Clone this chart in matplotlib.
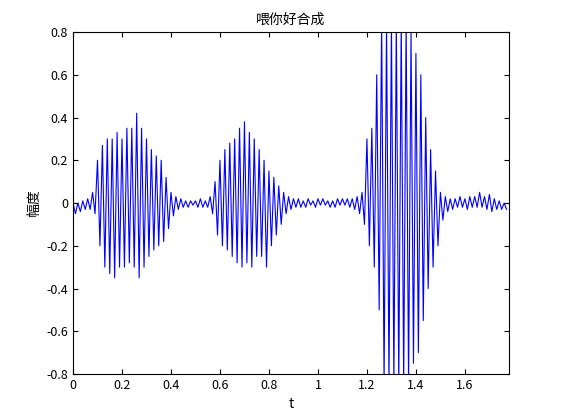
import numpy as np
import matplotlib
matplotlib.use("Agg")
import matplotlib.pyplot as plt

plt.rcParams['font.family'] = ['Noto Sans CJK SC', 'DejaVu Sans']

# envelope, every 0.02 s
t_env = [0.00, 0.02, 0.04, 0.06, 0.08, 0.10, 0.12, 0.14, 0.16, 0.18,
         0.20, 0.22, 0.24, 0.26, 0.28, 0.30, 0.32, 0.34, 0.36, 0.38,
         0.40, 0.42, 0.44, 0.46, 0.48, 0.50, 0.52, 0.54, 0.56, 0.58,
         0.60, 0.62, 0.64, 0.66, 0.68, 0.70, 0.72, 0.74, 0.76, 0.78,
         0.80, 0.82, 0.84, 0.86, 0.88, 0.90, 0.92, 0.94, 0.96, 0.98,
         1.00, 1.02, 1.04, 1.06, 1.08, 1.10, 1.12, 1.14, 1.16, 1.18,
         1.20, 1.22, 1.24, 1.26, 1.28, 1.30, 1.32, 1.34, 1.36, 1.38,
         1.40, 1.42, 1.44, 1.46, 1.48, 1.50, 1.52, 1.54, 1.56, 1.58,
         1.60, 1.62, 1.64, 1.66, 1.68, 1.70, 1.72, 1.74, 1.76]
upper = [0.00, 0.00, 0.01, 0.02, 0.05, 0.20, 0.27, 0.30, 0.30, 0.33,
         0.30, 0.35, 0.35, 0.42, 0.35, 0.30, 0.25, 0.22, 0.20, 0.12,
         0.05, 0.03, 0.02, 0.01, 0.01, 0.01, 0.02, 0.01, 0.03, 0.10,
         0.20, 0.25, 0.28, 0.30, 0.35, 0.38, 0.33, 0.30, 0.25, 0.20,
         0.15, 0.12, 0.08, 0.05, 0.03, 0.02, 0.02, 0.01, 0.02, 0.01,
         0.02, 0.02, 0.01, 0.01, 0.02, 0.02, 0.02, 0.02, 0.03, 0.05,
         0.30, 0.35, 0.60, 0.85, 0.85, 0.85, 0.85, 0.85, 0.85, 0.80,
         0.70, 0.60, 0.40, 0.25, 0.15, 0.05, 0.03, 0.02, 0.02, 0.03,
         0.02, 0.03, 0.03, 0.05, 0.03, 0.04, 0.02, 0.01, 0.00]
lower = [-0.05, -0.04, -0.03, -0.03, -0.05, -0.20, -0.30, -0.33, -0.35, -0.30,
         -0.30, -0.28, -0.30, -0.35, -0.30, -0.25, -0.22, -0.20, -0.18, -0.12,
         -0.06, -0.03, -0.02, -0.02, -0.01, -0.02, -0.02, -0.02, -0.05, -0.15,
         -0.20, -0.22, -0.25, -0.28, -0.30, -0.28, -0.30, -0.25, -0.25, -0.30,
         -0.20, -0.15, -0.10, -0.05, -0.03, -0.02, -0.02, -0.02, -0.01, -0.02,
         -0.01, -0.01, -0.02, -0.02, -0.01, -0.01, -0.02, -0.03, -0.05, -0.10,
         -0.20, -0.30, -0.50, -0.85, -0.85, -0.85, -0.85, -0.85, -0.85, -0.75,
         -0.70, -0.55, -0.40, -0.30, -0.20, -0.08, -0.04, -0.03, -0.02, -0.02,
         -0.03, -0.02, -0.02, -0.02, -0.03, -0.04, -0.03, -0.03, -0.03]

# zigzag between the two envelopes
t = []
y = []
for i in range(len(t_env)):
	t += [t_env[i], t_env[i] + 0.01]
	y += [upper[i], lower[i]]

fig = plt.figure(figsize=(5.61, 4.2), dpi=100)
ax = fig.add_axes([73/561, 1 - 374/420, 436/561, 342/420])
ax.plot(t, y, color='blue', linewidth=0.8)
ax.set_xlim(0, 1.78)
ax.set_ylim(-0.8, 0.8)
ax.set_xticks(np.arange(0, 1.7, 0.2))
ax.set_xticklabels(['0', '0.2', '0.4', '0.6', '0.8', '1', '1.2', '1.4', '1.6'])
ax.set_yticks(np.arange(-0.8, 0.81, 0.2))
ax.set_yticklabels(['-0.8', '-0.6', '-0.4', '-0.2', '0', '0.2', '0.4', '0.6', '0.8'])
ax.tick_params(direction='in', labelsize=9, top=True, right=True)
ax.set_title('喂你好合成', fontsize=10)
ax.set_xlabel('t', fontsize=10)
ax.set_ylabel('幅度', fontsize=10)
fig.savefig('out.png')
